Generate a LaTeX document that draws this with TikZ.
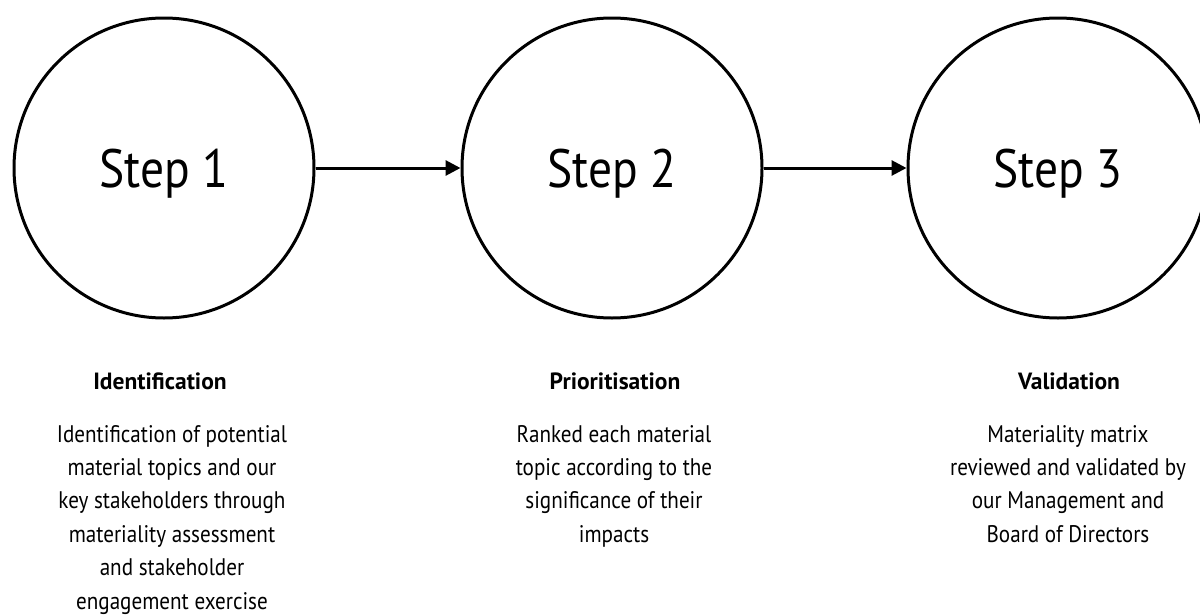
\documentclass[tikz,border=0pt]{standalone}
\usepackage{fontspec}
\setmainfont[FakeStretch=0.88]{PT Sans}
\newfontfamily\titlefont{PT Sans Bold}
\usetikzlibrary{arrows.meta}
\tikzset{
  stepcircle/.style={circle, draw=black, line width=3pt, minimum size=300pt, inner sep=0pt,
    text height=38pt, text depth=0pt, font=\fontsize{54}{60}\selectfont},
  flowarrow/.style={line width=3pt, -{Triangle[length=15pt,width=15pt]}},
  coltitle/.style={inner sep=0pt, anchor=base, font=\titlefont\fontsize{23.5}{28}\selectfont},
  colbody/.style={inner sep=0pt, anchor=base, align=center, font=\fontsize{24}{33.4}\selectfont},
}
\begin{document}
\begin{tikzpicture}[x=1pt,y=-1pt]
\useasboundingbox (0,0) rectangle (1200,616);
\fill[white] (0,0) rectangle (1200,616);
\node[stepcircle] (s1) at (164,168) {Step 1};
\node[stepcircle] (s2) at (612,168) {Step 2};
\node[stepcircle] (s3) at (1058,168) {Step 3};
\draw[flowarrow] (s1) -- (s2);
\draw[flowarrow] (s2) -- (s3);
\node[coltitle] (t1) at (160,389) {Identification};
\node[coltitle] (t2) at (615,389) {Prioritisation};
\node[coltitle] (t3) at (1069,389) {Validation};
% anchor=base of a multi-line node is the baseline of its last line
\node[colbody] (b1) at (172,609) {Identification of potential\\material topics and our\\key stakeholders through\\materiality assessment\\and stakeholder\\engagement exercise};
\node[colbody] (b2) at (614,542.2) {Ranked each material\\topic according to the\\significance of their\\impacts};
\node[colbody] (b3) at (1068,542.2) {Materiality matrix\\reviewed and validated by\\our Management and\\Board of Directors};
\end{tikzpicture}
\end{document}
